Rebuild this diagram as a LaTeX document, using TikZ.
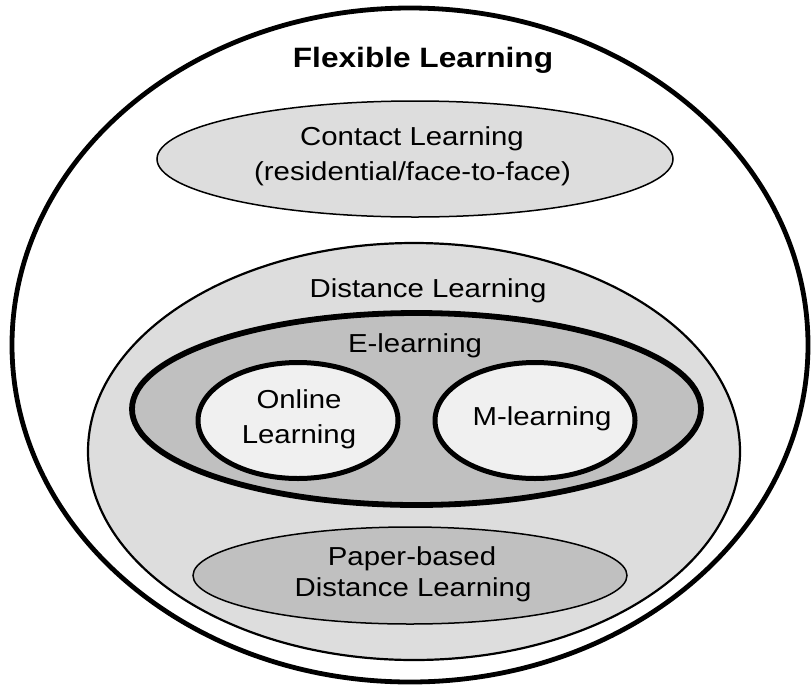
\documentclass[tikz,border=0pt]{standalone}
\usepackage{fontspec}
\usepackage{graphicx}
\setmainfont{Liberation Sans}
\usetikzlibrary{shapes.geometric}
\newcommand{\sx}[1]{\scalebox{1.13}[1]{#1}}
\definecolor{lightfill}{HTML}{DDDDDD}
\definecolor{midfill}{HTML}{C0C0C0}
\definecolor{palefill}{HTML}{F0F0F0}
\tikzset{
  oval/.style={ellipse, draw=black, inner sep=0pt, outer sep=0pt},
  lbl/.style={anchor=base, inner sep=0pt, font=\fontsize{26}{31}\selectfont},
  boldlbl/.style={anchor=base, inner sep=0pt, font=\fontsize{28}{33}\selectfont\bfseries}
}
\begin{document}
\begin{tikzpicture}[x=1pt,y=-1pt]
\useasboundingbox (0,0) rectangle (811,686);
% shapes
\node[oval, fill=white, line width=4.8pt, minimum width=796pt, minimum height=674pt] (flex) at (410,345) {};
\node[oval, fill=lightfill, line width=1.5pt, minimum width=516pt, minimum height=116pt] (contact) at (415,159) {};
\node[oval, fill=lightfill, line width=2.2pt, minimum width=652pt, minimum height=417pt] (dist) at (414,451.5) {};
\node[oval, fill=midfill, line width=5.8pt, minimum width=569pt, minimum height=192pt] (elearn) at (416.5,409) {};
\node[oval, fill=palefill, line width=5pt, minimum width=200pt, minimum height=116pt] (online) at (298,420.5) {};
\node[oval, fill=palefill, line width=5pt, minimum width=200pt, minimum height=116pt] (mlearn) at (535,420.5) {};
\node[oval, fill=midfill, line width=1.5pt, minimum width=434pt, minimum height=97pt] (paper) at (410,575.5) {};
% labels
\node[boldlbl] (tflex) at (423,67) {\sx{Flexible Learning}};
\node[lbl] (tcontact1) at (412,145) {\sx{Contact Learning}};
\node[lbl] (tcontact2) at (412.5,180) {\sx{(residential/face-to-face)}};
\node[lbl] (tdist) at (428,297) {\sx{Distance Learning}};
\node[lbl] (telearn) at (415,352) {\sx{E-learning}};
\node[lbl] (tonline1) at (299,408) {\sx{Online}};
\node[lbl] (tonline2) at (299,443) {\sx{Learning}};
\node[lbl] (tmlearn) at (542,425) {\sx{M-learning}};
\node[lbl] (tpaper1) at (412,565) {\sx{Paper-based}};
\node[lbl] (tpaper2) at (413,596) {\sx{Distance Learning}};
\end{tikzpicture}
\end{document}
